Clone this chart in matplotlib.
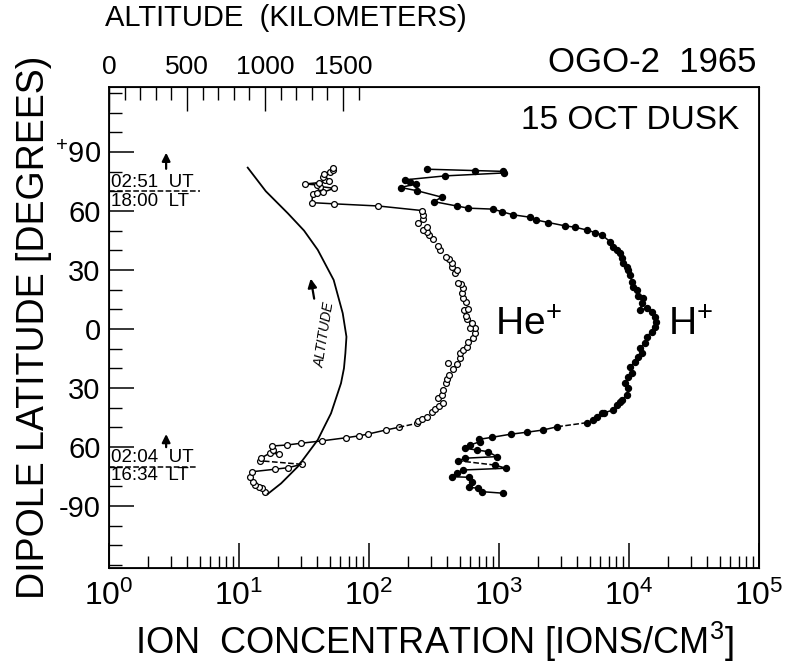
import matplotlib
matplotlib.use('Agg')
import matplotlib.pyplot as plt
import numpy as np

plt.rcParams.update({'font.family': ['Liberation Sans', 'DejaVu Sans'],
                     'mathtext.fontset': 'custom',
                     'mathtext.rm': 'Liberation Sans',
                     'mathtext.it': 'Liberation Sans:italic'})

# He+ (open circles), ordered along the pass from south to north
he_conc = [15.8, 15.0, 14.3, 13.3, 12.9, 12.2, 12.5, 18.9, 23.9, 30.4,
           14.5, 14.7, 17.3, 20.3, 18.3, 17.9, 23.3, 30.0, 43.3, 66.5, 84.2, 98.8, 134, 169,
           233, 239, 254, 278, 304, 322, 347, 369, 341, 362, 369, 391, 396, 415, 407, 445,
           473, 501, 501, 531, 564, 581, 634, 654, 654, 598, 617, 564, 557, 538, 581, 557,
           526, 517, 526, 507, 486, 459, 473, 433, 433, 415, 391, 352, 341, 313, 291, 278,
           259, 278, 237, 259, 259, 254,
           118, 53.8, 36.3, 36.9, 39.6, 44.5, 53.8, 42.0, 39.6, 32.2, 41.5, 45.9, 49.5,
           44.5, 45.1, 50.1, 53.1, 52.6]
he_lat = [-82.7, -81.0, -80.2, -79.3, -77.6, -75.1, -72.6, -71.3, -70.5, -68.8,
          -67.0, -65.7, -63.1, -63.6, -61.5, -59.5, -59.0, -58.1, -56.9, -55.3, -54.3, -53.4, -51.4, -50.0,
          -48.0, -46.6, -45.9, -44.6, -42.1, -40.8, -39.0, -37.5, -35.2, -33.6, -31.0, -27.6, -25.6, -23.4, -17.4, -20.5,
          -17.8, -14.9, -12.4, -10.7, -9.3, -6.5, -4.7, -2.2, 0.7, 0.4, 2.9, 4.9, 6.6, 9.7, 10.0, 13.9,
          15.6, 18.2, 20.7, 22.9, 23.2, 28.3, 30.0, 31.7, 33.4, 35.4, 36.8, 40.2, 42.2, 45.6, 47.8, 49.5,
          50.3, 52.0, 54.1, 55.8, 58.0, 60.2,
          62.5, 63.6, 64.2, 68.5, 69.0, 69.5, 71.5, 72.4, 73.2, 73.7, 74.4, 75.8, 75.4,
          77.4, 78.8, 80.0, 80.9, 81.7]

# H+ (filled circles)
h_conc = [1079, 736, 693, 591, 617, 591, 433, 473, 526, 1132, 931,
          486, 547, 960, 827, 673, 547, 598, 714, 705, 879, 1230, 1633, 2168, 2806,
          4778, 5311, 5644, 6166, 6425, 7576, 8041, 8531, 8790, 9600, 9880, 9310, 9880,
          10490, 10180, 11130, 11800, 12530, 12160, 13280, 13680, 14960, 15850, 16140,
          15850, 14960, 13680, 12160, 12530, 12890, 11800, 11460, 10790, 10490, 10180,
          9880, 9600, 9040, 8790, 8531, 8041, 7576, 7145, 6166, 5470, 4730, 3846, 3221,
          2394, 1926, 1731, 1288, 1049, 903, 581, 473, 316, 362, 233, 175, 230, 207, 189,
          384, 1093, 1079, 654, 278]
h_lat = [-83.5, -82.7, -81.0, -80.5, -77.6, -75.4, -75.1, -73.4, -71.7, -70.8, -69.2,
         -67.0, -65.7, -64.9, -62.4, -61.5, -60.7, -59.0, -57.3, -56.1, -55.1, -53.5, -52.5, -51.4, -49.7,
         -47.6, -46.3, -44.9, -42.9, -42.6, -41.2, -38.6, -37.0, -36.1, -33.6, -30.2, -27.6, -24.3,
         -22.5, -19.2, -16.6, -14.1, -12.4, -9.8, -7.3, -3.9, -1.4, 1.2, 3.7,
         6.3, 8.8, 10.5, 9.7, 13.1, 15.6, 16.8, 19.8, 21.5, 24.1, 27.5,
         30.0, 31.7, 33.4, 36.0, 38.5, 40.2, 41.9, 44.4, 47.8, 49.0, 50.3, 51.7, 52.4,
         54.1, 55.4, 56.8, 58.0, 59.6, 60.9, 61.4, 62.5, 64.7, 67.0, 70.3, 71.9, 73.7, 74.9, 75.8,
         77.8, 79.3, 80.1, 80.5, 81.2]

# satellite altitude along the pass
alt_lat = [82.0, 70.0, 58.8, 50.0, 40.2, 24.9, 8.0, -4.0, -12.4, -20.0, -27.6,
           -42.9, -50.0, -56.4, -63.0, -70.0, -78.5, -83.9]
alt_km = [889, 1005, 1146, 1250, 1338, 1440, 1498, 1522, 1515, 1506, 1487,
          1423, 1378, 1338, 1276, 1210, 1103, 1017]

lat_ticks = [-90, -60, -30, 0, 30, 60, 90]
lat_labels = ['-90', '60', '30', '0', '30', '60', r'$^{+}$90']
alt_ticks = [0, 500, 1000, 1500]

fig = plt.figure(figsize=(7.86, 6.69), dpi=100)
ax = fig.add_axes([0.1387, 0.151, 0.827, 0.719])
ax.set_xscale('log')
ax.set_xlim(1, 1e5)
ax.set_ylim(-121.5, 123)

lw = 1.1
he_style = dict(marker='o', ms=4.2, mfc='white', mec='black', mew=0.9, color='black', lw=lw)
h_style = dict(marker='o', ms=4.3, mfc='black', mec='black', color='black', lw=lw)

def seg(x, y, a, b, ls, style):
    ax.plot(x[a:b], y[a:b], ls=ls, **style)

hc, hl = np.array(he_conc), np.array(he_lat)
seg(hc, hl, 0, 10, '-', he_style)
ax.plot(hc[9:11], hl[9:11], 'k--', lw=lw)
seg(hc, hl, 10, 24, '-', he_style)
ax.plot(hc[23:25], hl[23:25], 'k--', lw=lw)
seg(hc, hl, 24, 77, 'none', he_style)
seg(hc, hl, 77, len(hc), '-', he_style)

pc, pl = np.array(h_conc), np.array(h_lat)
seg(pc, pl, 0, 11, '-', h_style)
ax.plot(pc[10:12], pl[10:12], 'k--', lw=lw)
seg(pc, pl, 11, 25, '-', h_style)
ax.plot(pc[24:26], pl[24:26], 'k--', lw=lw)
seg(pc, pl, 25, len(pc), '-', h_style)

# ticks
ax.set_xticks([10.0 ** k for k in range(6)])
ax.set_xticklabels([r'$10^{%d}$' % k for k in range(6)], fontsize=23)
ax.set_yticks(lat_ticks)
ax.set_yticklabels(lat_labels, fontsize=21)
ax.set_yticks(np.arange(-120, 121, 10), minor=True)
ax.tick_params(which='major', direction='in', length=18, width=1.1, top=False, right=False)
ax.tick_params(which='minor', direction='in', length=9, width=1.0, top=False, right=False)
ax.tick_params(axis='x', which='major', pad=9)
ax.tick_params(axis='y', which='major', pad=6)
for s in ax.spines.values():
    s.set_linewidth(1.3)

ax.set_xlabel('ION  CONCENTRATION [IONS/CM$^{3}$]', fontsize=26, labelpad=6)
ax.set_ylabel('DIPOLE LATITUDE [DEGREES)', fontsize=27, labelpad=2)

# altitude on top axis
ax2 = ax.twiny()
ax2.set_xlim(0, 650 / 78 * 500)
ax2.set_xticks(alt_ticks)
ax2.set_xticklabels([str(t) for t in alt_ticks], fontsize=19)
ax2.set_xticks(np.arange(0, 1601, 100), minor=True)
ax2.tick_params(which='major', direction='in', length=17, width=1.0, pad=6)
ax2.tick_params(which='minor', direction='in', length=9, width=1.0)
ax2.plot(alt_km, alt_lat, color='black', lw=1.3)
ax2.set_ylim(-121.5, 123)
ax2.text(1385, -3, 'ALTITUDE', rotation=81, fontsize=10, style='italic',
         ha='center', va='center')
ax2.annotate('', xy=(1290, 27), xytext=(1318, 14),
             arrowprops=dict(arrowstyle='-|>', color='black', lw=1.6, mutation_scale=13))

# time markers
ax.plot([1, 5.0], [70, 70], 'k--', lw=1.1)
ax.plot([1, 4.7], [-70, -70], 'k--', lw=1.1)
ax.text(1.03, 74.5, '02:51  UT', fontsize=13.5, va='center')
ax.text(1.03, 65.0, '18:00  LT', fontsize=13.5, va='center')
ax.text(1.03, -65.5, '02:04  UT', fontsize=13.5, va='center')
ax.text(1.03, -74.5, '16:34  LT', fontsize=13.5, va='center')
ax.annotate('', xy=(2.75, 91), xytext=(2.75, 80),
            arrowprops=dict(arrowstyle='-|>', color='black', lw=1.6, mutation_scale=12))
ax.annotate('', xy=(2.75, -52), xytext=(2.75, -61.5),
            arrowprops=dict(arrowstyle='-|>', color='black', lw=1.6, mutation_scale=12))

ax.text(930, 2, 'He$^{+}$', fontsize=28, va='center', ha='left')
ax.text(20000, 2, 'H$^{+}$', fontsize=28, va='center', ha='left')
ax.text(0.97, 0.93, '15 OCT DUSK', transform=ax.transAxes, fontsize=24,
        ha='right', va='center')

fig.text(105 / 786, 1 - 18 / 669, 'ALTITUDE  (KILOMETERS)', fontsize=21,
         ha='left', va='center')
fig.text(757 / 786, 1 - 62 / 669, 'OGO-2  1965', fontsize=25, ha='right', va='center')

fig.savefig('out.png', dpi=100)
